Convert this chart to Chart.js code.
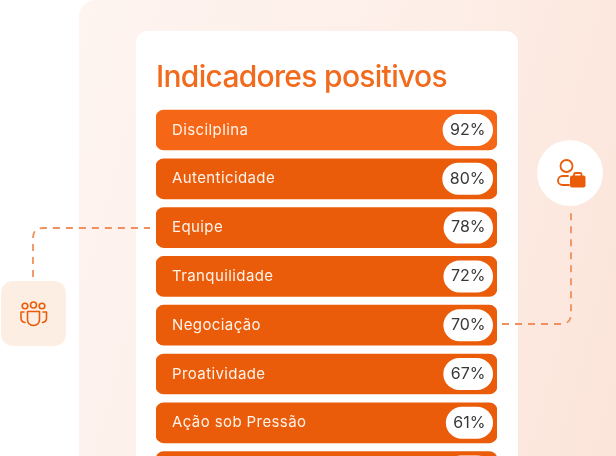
<!DOCTYPE html>
<html lang="pt">

<head>
    <meta charset="UTF-8">
    <title>Indicadores positivos</title>
    <script src="https://cdn.jsdelivr.net/npm/chart.js@4/dist/chart.umd.min.js"></script>
    <style>
        html, body { margin: 0; padding: 0; width: 616px; height: 456px; overflow: hidden; background: #fff; }
        .panel { position: absolute; left: 79px; top: 0; width: 560px; height: 470px; border-radius: 17px; background: linear-gradient(105deg, #fef4f0 0%, #fdeee7 55%, #fbe3d8 100%); }
        .card { position: absolute; left: 136px; top: 31px; width: 382px; height: 460px; border-radius: 12px; background: #fff; }
        .tile { position: absolute; left: 1px; top: 281px; width: 65px; height: 65px; border-radius: 12px; background: #fdeee3; }
        .circle { position: absolute; left: 537px; top: 140px; width: 66px; height: 66px; border-radius: 50%; background: #fff; }
        svg { position: absolute; left: 0; top: 0; }
        .canvasbox { position: absolute; left: 0; top: 0; width: 616px; height: 521px; }
        canvas { display: block; }
    </style>
</head>

<body>
    <div class="panel"></div>
    <div class="card"></div>
    <div class="tile"></div>
    <div class="circle"></div>
    <svg width="616" height="456" fill="none">
        <!-- connectors -->
        <path d="M33 277V238Q33 228 43 228H150" stroke="#f0905f" stroke-width="1.8" stroke-dasharray="7 6" />
        <path d="M502 324H561Q571 324 571 314V211" stroke="#f0905f" stroke-width="1.8" stroke-dasharray="7 6" />
        <!-- team icon -->
        <g stroke="#ea5c0a" stroke-width="1.6" stroke-linecap="round" stroke-linejoin="round">
            <circle cx="25" cy="306" r="2.8" />
            <circle cx="33.5" cy="305" r="3" />
            <circle cx="42" cy="306" r="2.8" />
            <path d="M27.5 311.5H39.5V319.5Q39.5 325 33.5 325.5Q27.5 325 27.5 319.5Z" />
            <path d="M24 312H21V318Q21 322 25 322.5" />
            <path d="M43 312H46.5V318Q46.5 322 42.5 322.5" />
        </g>
        <!-- person with briefcase icon -->
        <g stroke="#ea5c0a" stroke-width="1.8" stroke-linecap="round">
            <circle cx="566.5" cy="166" r="6" />
            <path d="M568 176H562.5A4.5 4.5 0 0 0 562.5 185H569" />
            <path d="M574 176V174.5Q574 173 575.5 173H580Q581.5 173 581.5 174.5V176" />
        </g>
        <rect x="570" y="175.5" width="15.5" height="12" rx="2" fill="#ea5c0a" />
    </svg>
    <div class="canvasbox"><canvas id="myChart" width="616" height="521"></canvas></div>

    <script>
        const categories = ['Discilplina', 'Autenticidade', 'Equipe', 'Tranquilidade', 'Negociação', 'Proatividade', 'Ação sob Pressão', ''];
        const trackValues = [100, 100, 100, 100, 100, 100, 100, 100];
        const percentValues = [92, 80, 78, 72, 70, 67, 61, null]; // last row is cut off in the picture
        const barColors = ['#f56716', '#ea5c0a', '#ea5c0a', '#ea5c0a', '#ea5c0a', '#ea5c0a', '#ea5c0a', '#ea5c0a'];

        // letter spacing is not a chart option, so set it on the context
        const spacingPlugin = {
            id: 'spacing',
            afterLayout(chart) {
                const title = chart.titleBlock;
                if (title.spaced) return;
                const drawTitle = title.draw;
                title.draw = function () {
                    chart.ctx.save();
                    chart.ctx.letterSpacing = '-0.7px';
                    drawTitle.call(title);
                    chart.ctx.restore();
                };
                title.spaced = true;
            },
            beforeDraw(chart) {
                chart.ctx.letterSpacing = '0.4px';
            }
        };

        // white pill with the percent, at the end of each bar
        const pillPlugin = {
            id: 'pills',
            afterDatasetsDraw(chart) {
                const ctx = chart.ctx;
                const bars = chart.getDatasetMeta(0).data;
                ctx.save();
                ctx.letterSpacing = '0px';
                ctx.font = '400 16px Inter';
                ctx.textAlign = 'center';
                ctx.textBaseline = 'middle';
                bars.forEach((bar, i) => {
                    const text = percentValues[i] === null ? '' : percentValues[i] + '%';
                    const w = text ? ctx.measureText(text).width + 15 : 48;
                    const right = bar.x - 4;
                    ctx.fillStyle = '#fff';
                    ctx.beginPath();
                    ctx.roundRect(right - w, bar.y - 16, w, 32, 16);
                    ctx.fill();
                    ctx.fillStyle = '#383838';
                    ctx.fillText(text, right - w / 2, bar.y);
                });
                ctx.restore();
            }
        };

        const ctx = document.getElementById('myChart').getContext('2d');
        const myChart = new Chart(ctx, {
            type: 'bar',
            data: {
                labels: categories,
                datasets: [{
                    data: trackValues,
                    backgroundColor: barColors,
                    borderRadius: 8,
                    borderSkipped: false,
                    barThickness: 40
                }]
            },
            plugins: [spacingPlugin, pillPlugin],
            options: {
                indexAxis: 'y',
                responsive: false,
                maintainAspectRatio: false,
                animation: false,
                layout: { padding: { left: 156, right: 119, top: 60, bottom: 8 } },
                plugins: {
                    legend: { display: false },
                    tooltip: { enabled: false },
                    title: {
                        display: true,
                        text: 'Indicadores positivos',
                        align: 'start',
                        color: '#f26a1b',
                        font: { family: 'Inter', size: 30, weight: '500' },
                        padding: { top: 0, bottom: 9.6 }
                    }
                },
                scales: {
                    x: { display: false, min: 0, max: 100 },
                    y: {
                        afterFit(scale) { scale.width = 0; },
                        grid: { display: false },
                        border: { display: false },
                        ticks: {
                            mirror: true,
                            padding: 16,
                            z: 1,
                            color: '#fff3ea',
                            font: { family: 'Inter', size: 15, weight: '400' }
                        }
                    }
                }
            }
        });
    </script>
</body>

</html>
